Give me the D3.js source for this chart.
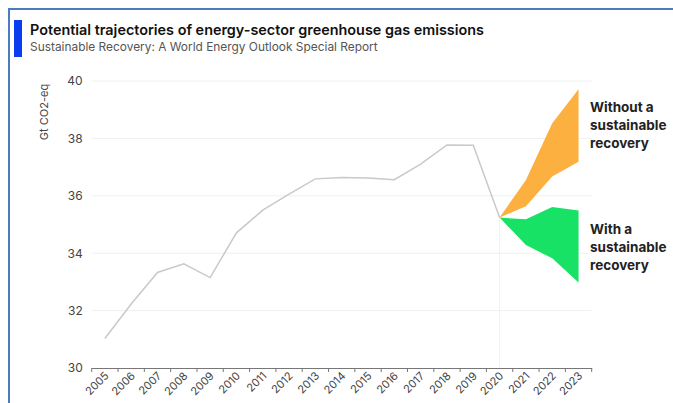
<!DOCTYPE html>
<html>
<head>
<meta charset="utf-8">
<script src="https://cdn.jsdelivr.net/npm/d3@7"></script>
<style>
  html, body { margin: 0; padding: 0; background: #fff; }
  svg { display: block; }
</style>
</head>
<body>
<svg id="chart" width="673" height="403"></svg>
<script>
// Historical energy-sector GHG emissions, Gt CO2-eq
const years = ["2005","2006","2007","2008","2009","2010","2011","2012","2013","2014",
               "2015","2016","2017","2018","2019","2020","2021","2022","2023"];
const historyYears = years.slice(0, 16);
const historyValues = [31.03, 32.23, 33.33, 33.63, 33.15, 34.71, 35.5, 36.06, 36.59, 36.64,
                       36.62, 36.56, 37.10, 37.77, 37.76, 35.24];

// Projection ranges from 2020 onward
const projYears = ["2020", "2021", "2022", "2023"];
const withoutHigh = [35.24, 36.55, 38.53, 39.71];
const withoutLow  = [35.24, 35.64, 36.67, 37.19];
const withHigh    = [35.24, 35.18, 35.61, 35.49];
const withLow     = [35.24, 34.29, 33.82, 32.98];

const yTicks = [30, 32, 34, 36, 38, 40];
const title = "Potential trajectories of energy-sector greenhouse gas emissions";
const subtitle = "Sustainable Recovery: A World Energy Outlook Special Report";
const labelWithout = ["Without a", "sustainable", "recovery"];
const labelWith = ["With a", "sustainable", "recovery"];

const svg = d3.select("#chart");
const font = "Inter, 'Noto Sans', sans-serif";

// outer frame
svg.append("rect").attr("x", 9).attr("y", 9).attr("width", 700).attr("height", 420)
  .attr("fill", "none").attr("stroke", "#4a7cc0").attr("stroke-width", 2);

// header
svg.append("rect").attr("x", 14).attr("y", 20).attr("width", 8).attr("height", 37).attr("fill", "#0b3df0");
svg.append("text").attr("x", 30).attr("y", 35).text(title)
  .attr("font-family", font).attr("font-size", 14.4).attr("font-weight", 600).attr("fill", "#111");
svg.append("text").attr("x", 30).attr("y", 51).text(subtitle)
  .attr("font-family", font).attr("font-size", 11.9).attr("fill", "#555");

const x = d3.scaleBand().domain(years).range([91.7, 591.7]);
const y = d3.scaleLinear().domain([30, 40]).range([368, 81]);
const cx = d => x(d) + x.bandwidth() / 2;

// gridlines
svg.append("g").selectAll("line").data(yTicks.slice(1)).join("line")
  .attr("x1", 91.7).attr("x2", 591.7)
  .attr("y1", d => y(d)).attr("y2", d => y(d))
  .attr("stroke", "#f0f0f0").attr("stroke-width", 1);

// y axis labels
const yAxis = svg.append("g").attr("transform", "translate(91.7,0)")
  .call(d3.axisLeft(y).tickValues(yTicks).tickSize(0).tickPadding(9));
yAxis.select(".domain").remove();
yAxis.selectAll("text").attr("font-family", font).attr("font-size", 12).attr("fill", "#444");

svg.append("text").attr("transform", "translate(48,112) rotate(-90)")
  .attr("text-anchor", "middle").text("Gt CO2-eq")
  .attr("font-family", font).attr("font-size", 11).attr("fill", "#444");

// faint marker at 2020
svg.append("line").attr("x1", cx("2020")).attr("x2", cx("2020"))
  .attr("y1", y(historyValues[15])).attr("y2", y(30))
  .attr("stroke", "#f3f3ea").attr("stroke-width", 1);

// x axis
const xAxis = svg.append("g").attr("transform", `translate(0,${y(30)})`)
  .call(d3.axisBottom(x).tickSize(0).tickPadding(6));
xAxis.select(".domain").attr("stroke", "#777");
xAxis.selectAll("text")
  .attr("font-family", font).attr("font-size", 11).attr("fill", "#444")
  .attr("text-anchor", "end")
  .attr("transform", "translate(-1,3) rotate(-45)")
  .attr("dy", "0.35em").attr("y", 4).attr("x", 0);
// boundary ticks between years
svg.append("g").selectAll("line").data(d3.range(years.length + 1)).join("line")
  .attr("x1", i => 91.7 + i * x.step()).attr("x2", i => 91.7 + i * x.step())
  .attr("y1", y(30)).attr("y2", y(30) + 4)
  .attr("stroke", "#777").attr("stroke-width", 1);

// projection bands
const band = (hi, lo) => d3.area()
  .x((d, i) => cx(projYears[i]))
  .y0((d, i) => y(lo[i]))
  .y1((d, i) => y(hi[i]))(hi);
svg.append("path").attr("d", band(withoutHigh, withoutLow)).attr("fill", "#fbb040");
svg.append("path").attr("d", band(withHigh, withLow)).attr("fill", "#17e265");

// historical line
svg.append("path")
  .attr("d", d3.line().x((d, i) => cx(historyYears[i])).y(d => y(d))(historyValues))
  .attr("fill", "none").attr("stroke", "#c9c9c9").attr("stroke-width", 1.5);

// scenario labels
const label = (lines, y0) => svg.append("text")
  .attr("font-family", font).attr("font-size", 13.5).attr("font-weight", 700).attr("fill", "#222")
  .selectAll("tspan").data(lines).join("tspan")
  .attr("x", 590).attr("y", (d, i) => y0 + i * 18).text(d => d);
label(labelWithout, 111.5);
label(labelWith, 233.5);
</script>
</body>
</html>
